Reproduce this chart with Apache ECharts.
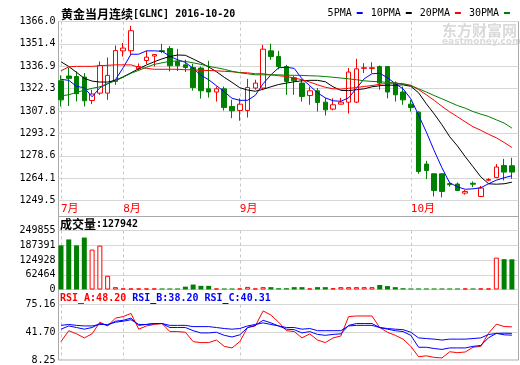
<!DOCTYPE html>
<html><head><meta charset="utf-8">
<script src="https://cdn.jsdelivr.net/npm/echarts@6/dist/echarts.min.js"></script>
<style>html,body{margin:0;padding:0;background:#fff;}#c{width:520px;height:365px;}</style>
</head><body><div id="c"></div>
<script>
// ---- data ----
const monthTicks = [0, 8, 23, 45];
const monthLabels = ['7月', '8月', '9月', '10月'];

const opens  = [1327.4,1330.5,1330.2,1329.8,1314.6,1319.4,1319.4,1327.0,1346.9,1347.0,
                1335.2,1340.6,1343.5,1347.0,1348.4,1340.0,1337.8,1336.1,1335.7,1322.2,
                1320.1,1322.2,1310.7,1308.1,1308.1,1322.7,1322.7,1346.9,1343.2,1336.7,
                1329.4,1325.9,1317.8,1320.9,1313.5,1309.0,1312.2,1313.5,1313.5,1335.5,
                1335.4,1336.7,1336.7,1325.9,1320.1,1312.2,1307.0,1273.2,1266.9,1266.9,
                1260.5,1260.2,1254.3,1260.7,1252.1,1262.7,1264.5,1272.3,1272.1];
const closes = [1315.0,1329.0,1319.0,1314.4,1318.8,1337.4,1330.9,1347.1,1348.7,1360.0,
                1336.7,1342.8,1344.5,1346.5,1337.2,1337.2,1336.1,1323.0,1320.9,1320.1,
                1322.2,1310.0,1307.9,1312.2,1323.0,1325.9,1348.0,1343.2,1336.7,1327.0,
                1327.5,1317.2,1320.9,1313.3,1308.5,1311.8,1313.5,1333.1,1335.2,1335.9,
                1335.9,1325.9,1320.1,1318.3,1315.0,1310.0,1268.4,1269.0,1256.0,1255.4,
                1259.8,1256.0,1255.4,1260.1,1257.6,1263.2,1271.3,1268.0,1268.0];
const lows   = [1310.7,1311.0,1314.0,1310.7,1312.2,1318.3,1315.0,1324.8,1343.2,1344.3,
                1334.1,1338.3,1336.7,1345.4,1333.5,1333.8,1333.1,1321.0,1315.8,1316.5,
                1313.9,1308.0,1303.1,1301.4,1303.5,1321.6,1321.6,1341.1,1334.8,1318.3,
                1318.3,1313.9,1311.8,1307.4,1304.8,1308.1,1312.0,1306.1,1312.9,1332.4,
                1332.4,1321.6,1316.0,1313.9,1311.8,1307.4,1266.9,1263.4,1252.1,1251.5,
                1258.5,1255.8,1253.3,1258.2,1251.8,1262.0,1264.0,1262.5,1263.6];
const highs  = [1331.0,1336.0,1333.5,1332.4,1321.6,1340.0,1342.6,1350.4,1352.0,1363.2,
                1338.7,1346.9,1344.8,1351.4,1350.0,1348.2,1341.1,1338.5,1336.7,1340.4,
                1323.7,1323.7,1315.0,1316.0,1328.7,1328.1,1350.8,1351.6,1346.9,1337.8,
                1330.5,1328.1,1323.7,1322.7,1316.3,1316.0,1316.3,1335.7,1341.7,1338.9,
                1339.5,1337.4,1336.9,1327.0,1323.7,1315.0,1307.6,1275.3,1267.0,1267.0,
                1261.5,1261.2,1256.3,1261.9,1259.0,1264.0,1273.2,1276.6,1277.3];

const ma5  = [1328.4,1327.7,1323.8,1322.9,1317.0,1322.9,1325.5,1328.1,1335.9,1344.7,
              1344.7,1346.9,1346.9,1346.6,1343.4,1341.1,1339.4,1335.5,1331.0,1328.1,
              1324.2,1320.3,1316.0,1314.7,1314.7,1318.0,1325.5,1331.3,1335.9,1336.2,
              1335.5,1328.7,1324.2,1319.6,1316.3,1314.4,1314.1,1316.3,1322.5,1328.7,
              1332.0,1332.3,1329.4,1325.5,1322.2,1315.7,1305.0,1294.0,1282.0,1270.8,
              1261.0,1258.4,1256.8,1257.1,1257.8,1260.4,1262.7,1264.3,1265.6];
const ma10 = [1339.8,1336.7,1332.9,1329.0,1327.2,1326.6,1326.6,1327.7,1330.0,1332.6,
              1335.3,1337.7,1339.8,1341.7,1343.2,1344.2,1344.0,1341.6,1339.1,1336.4,
              1333.3,1329.7,1326.4,1322.9,1321.4,1320.6,1321.9,1323.5,1325.0,1325.9,
              1326.8,1327.4,1327.7,1327.7,1326.8,1323.5,1321.2,1321.0,1321.6,1322.2,
              1323.5,1324.2,1324.6,1324.5,1324.8,1323.8,1319.6,1312.4,1305.9,1298.8,
              1291.0,1285.0,1278.0,1271.5,1264.9,1260.4,1260.1,1260.4,1261.4];
const ma20 = [1333.9,1336.5,1336.8,1336.8,1336.8,1337.2,1337.5,1337.8,1337.8,1337.8,
              1336.2,1335.5,1334.9,1334.9,1334.9,1334.9,1334.6,1334.6,1334.2,1334.1,
              1333.9,1333.6,1333.3,1332.8,1332.6,1332.0,1332.0,1331.3,1330.7,1330.2,
              1329.2,1328.1,1326.6,1324.8,1323.2,1322.2,1322.0,1322.5,1323.0,1323.7,
              1324.3,1325.1,1325.8,1325.9,1325.5,1324.5,1321.6,1318.3,1314.7,1310.8,
              1307.2,1304.0,1300.7,1297.5,1295.2,1292.6,1290.3,1287.3,1284.0];
const ma30 = [1317.6,1318.3,1319.9,1321.2,1322.5,1323.5,1325.5,1327.4,1329.7,1332.3,
              1334.2,1336.2,1338.1,1339.1,1340.1,1340.3,1340.0,1339.1,1338.1,1336.8,
              1335.9,1334.9,1333.6,1332.6,1332.0,1331.3,1331.3,1331.3,1331.3,1331.0,
              1331.0,1330.9,1330.7,1330.5,1330.2,1329.7,1329.2,1328.7,1328.1,1327.4,
              1327.0,1326.8,1326.3,1325.9,1325.3,1324.3,1322.2,1320.1,1317.8,1315.7,
              1313.5,1311.3,1309.6,1307.4,1305.7,1304.2,1302.0,1299.9,1296.6];

const volumes = [187000,212000,187000,220000,169000,186000,58000,10000,4500,4500,
                 4500,4500,4500,4500,4500,4500,12000,21000,15500,15500,
                 4500,4500,4500,4500,11000,4500,10000,10000,5500,5500,
                 10000,10000,4500,10000,10000,5500,10000,10000,10000,10000,
                 10000,19000,14500,10000,5500,4500,4500,4500,4500,4500,
                 4500,4500,4500,4500,4500,4500,135000,128500,127942];

const rsiA = [30.4,43.6,39.8,34.9,39.8,53.8,49.3,58.7,60.6,64.4,
              45.4,49.3,51.1,52.2,42.5,42.5,41.7,30.4,29.2,29.2,
              32.3,24.7,22.8,30.4,47.4,49.3,67.4,62.5,53.8,43.6,
              42.5,34.9,39.8,32.3,29.2,34.9,37.2,60.6,61.3,61.3,
              61.3,47.4,41.7,38.0,33.4,24.7,12.2,13.3,11.4,10.7,
              18.2,17.1,17.9,23.6,24.7,40.5,51.5,48.6,48.20];
const rsiB = [45.4,49.3,47.4,45.4,47.4,52.2,50.0,55.0,56.1,58.7,
              50.0,51.1,52.2,52.2,47.4,47.4,47.4,43.6,40.9,40.9,
              41.7,38.0,36.0,38.6,47.4,50.0,56.1,53.0,49.3,45.4,
              44.8,40.9,42.5,39.1,38.0,39.1,39.8,50.0,52.2,52.2,
              52.2,47.4,45.4,43.6,42.5,38.0,23.6,23.6,22.1,21.0,
              22.8,22.8,22.8,24.7,25.8,35.0,40.4,38.6,38.20];
const rsiC = [50.0,51.1,50.0,49.3,49.3,51.1,51.1,53.8,55.0,56.8,
              51.1,51.1,52.2,52.2,50.0,50.0,50.0,48.5,48.5,48.5,
              47.4,46.2,45.4,46.2,49.3,51.1,53.0,51.1,49.3,47.4,
              47.4,45.4,46.2,43.6,43.6,43.6,43.6,49.3,50.0,50.0,
              50.0,47.4,46.2,45.4,44.8,41.7,34.9,34.1,33.4,32.3,
              33.4,33.4,33.4,34.1,34.9,39.0,40.2,40.6,40.31];

const priceAxis = {min: 1249.5, max: 1366.0, interval: 14.5625};
const volAxis = {min: 0, max: 249855, interval: 62463.75};
const rsiAxis = {min: 8.25, max: 75.16, interval: 33.455};

// ---- styling / layout ----
const UP = '#ff0000', DOWN = '#008000';
const FRAME = '#a8a8a8', GRID = '#d6d6d6', VGRID = '#c8c8c8';
const MONO = 'DejaVu Sans Mono';
const CJK = 'Noto Sans CJK SC';
const X_MIN = -0.32, X_MAX = 58.85;

const idx = (arr) => arr.map((v, i) => [i, v]);
const kData = opens.map((o, i) => [i, o, closes[i], lows[i], highs[i]]);
const volData = volumes.map((v, i) => ({
  value: [i, v],
  itemStyle: closes[i] >= opens[i]
    ? {color: '#fff', borderColor: UP, borderWidth: 1}
    : {color: DOWN}
}));
const last = (a) => a[a.length - 1];

function gridBox(top, height) {
  return {left: 58.5, right: 1.5, top: top, height: height, show: true,
          borderColor: FRAME, borderWidth: 1, backgroundColor: 'transparent'};
}
function xAx(gridIndex, labels) {
  return {
    type: 'value', gridIndex: gridIndex, min: X_MIN, max: X_MAX,
    axisLine: {show: false},
    axisTick: {show: false, customValues: monthTicks},
    splitLine: {show: true, lineStyle: {color: VGRID, type: [3, 3], width: 1}},
    axisLabel: labels ? {
      show: true, customValues: monthTicks,
      formatter: (v) => monthLabels[monthTicks.indexOf(Math.round(v))] || '',
      color: UP, align: 'left', margin: 3, fontSize: 11,
      fontFamily: MONO + ', ' + CJK
    } : {show: false}
  };
}
function yAx(gridIndex, ax, fmt) {
  return {
    type: 'value', gridIndex: gridIndex, min: ax.min, max: ax.max, interval: ax.interval,
    axisLine: {show: false}, axisTick: {show: false},
    splitLine: {show: true, lineStyle: {color: GRID, width: 1}},
    axisLabel: {formatter: fmt, margin: 3, color: '#000', fontSize: 10, fontFamily: MONO}
  };
}
function lineS(name, data, color, xi, yi) {
  return {type: 'line', name: name, data: idx(data), xAxisIndex: xi, yAxisIndex: yi,
          showSymbol: false, symbol: 'none', color: color, z: 4,
          lineStyle: {color: color, width: 1}, silent: true};
}

const chart = echarts.init(document.getElementById('c'), null, {renderer: 'canvas'});
chart.setOption({
  animation: false,
  backgroundColor: '#fff',
  title: [
    {text: '{c|黄金当月连续}{a|[GLNC] 2016-10-20}', left: 61, top: 8, padding: 0,
     textStyle: {fontSize: 12, rich: {
       c: {fontFamily: CJK, fontSize: 12, color: '#000', verticalAlign: 'middle'},
       a: {fontFamily: MONO, fontSize: 10, color: '#000', verticalAlign: 'middle'}}}},
    {text: '{c|成交量}{a|:' + last(volumes) + '}', left: 60, top: 218.5, padding: 0,
     textStyle: {fontSize: 12, rich: {
       c: {fontFamily: CJK, fontSize: 12, color: '#000', verticalAlign: 'middle'},
       a: {fontFamily: MONO, fontSize: 10, color: '#000', verticalAlign: 'middle'}}}},
    {text: '{r|RSI_A:' + last(rsiA).toFixed(2) + ' }{b|RSI_B:' + last(rsiB).toFixed(2) +
           ' }{b|RSI_C:' + last(rsiC).toFixed(2) + '}', left: 60, top: 293.5, padding: 0,
     textStyle: {fontSize: 10, rich: {
       r: {fontFamily: MONO, fontSize: 10, color: '#ff0000'},
       b: {fontFamily: MONO, fontSize: 10, color: '#0000ff'}}}}
  ],
  legend: {
    data: ['5PMA', '10PMA', '20PMA', '30PMA'], right: 10, top: 8, padding: 0,
    itemGap: 8, itemWidth: 6, itemHeight: 2, icon: 'rect', align: 'right',
    selectedMode: false,
    textStyle: {fontFamily: MONO, fontSize: 10, color: '#000'}
  },
  graphic: [
    {type: 'text', left: 442, top: 23, z: -10, silent: true,
     style: {text: '东方财富网', font: 'bold 15px "Noto Sans CJK SC"', fill: '#dadada'}},
    {type: 'text', left: 442, top: 37, z: -10, silent: true,
     style: {text: 'eastmoney.com', font: 'bold 9px "DejaVu Sans"', fill: '#dadada'}}
  ],
  grid: [
    gridBox(21.5, 179),   // 0 price
    gridBox(200.5, 16),   // 1 month band
    gridBox(216.5, 14),   // 2 volume header
    gridBox(230.5, 59),   // 3 volume
    gridBox(289.5, 15),   // 4 rsi header
    gridBox(304.5, 59)    // 5 rsi
  ],
  xAxis: [xAx(0, true), xAx(3, false), xAx(5, false)],
  yAxis: [
    yAx(0, priceAxis, (v) => v.toFixed(1)),
    yAx(3, volAxis, (v) => String(Math.round(v))),
    yAx(5, rsiAxis, (v) => v.toFixed(2))
  ],
  series: [
    {type: 'candlestick', name: 'K', data: kData, encode: {x: 0, y: [1, 2, 3, 4]},
     xAxisIndex: 0, yAxisIndex: 0, barWidth: 5, z: 2, silent: true,
     itemStyle: {color: '#fff', color0: DOWN, borderColor: UP, borderColor0: DOWN, borderWidth: 1}},
    lineS('5PMA', ma5, '#0000ff', 0, 0),
    lineS('10PMA', ma10, '#000000', 0, 0),
    lineS('20PMA', ma20, '#ff0000', 0, 0),
    lineS('30PMA', ma30, '#008000', 0, 0),
    {type: 'bar', name: 'VOL', data: volData, xAxisIndex: 1, yAxisIndex: 1,
     barWidth: 5, silent: true, z: 2},
    lineS('RSI_A', rsiA, '#ff0000', 2, 2),
    lineS('RSI_B', rsiB, '#0000ff', 2, 2),
    lineS('RSI_C', rsiC, '#0000ff', 2, 2)
  ]
});
</script></body></html>
